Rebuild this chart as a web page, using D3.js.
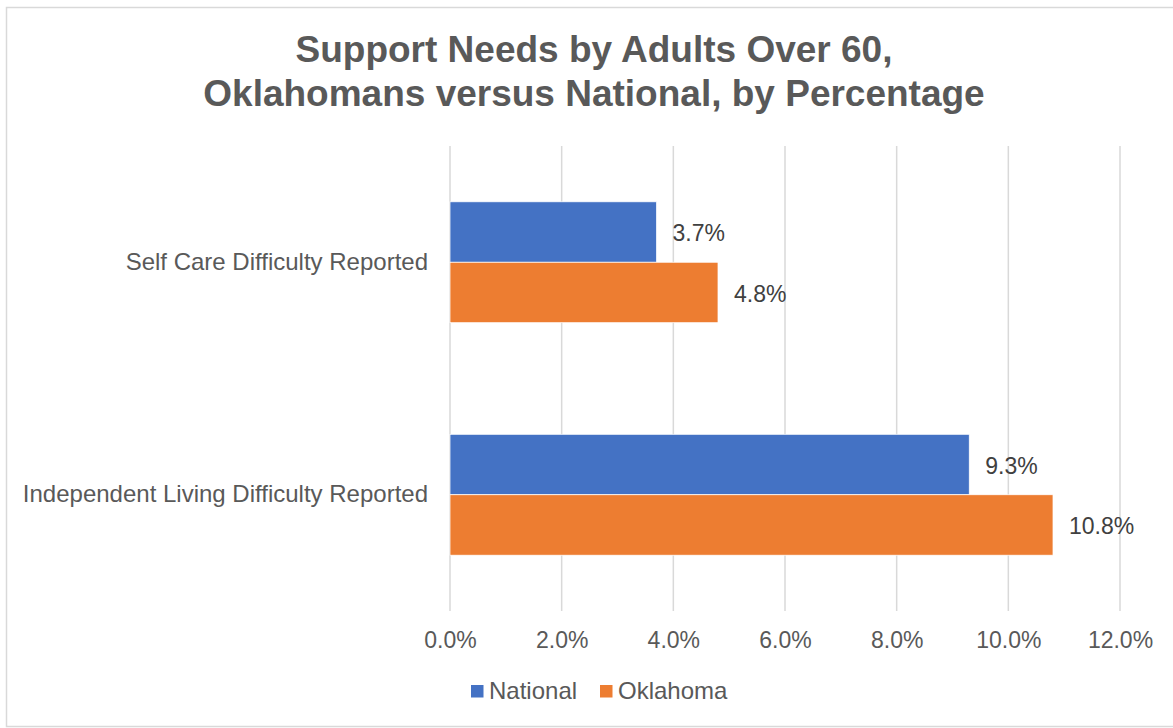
<!DOCTYPE html>
<html>
<head>
<meta charset="utf-8">
<script src="https://cdn.jsdelivr.net/npm/d3@7"></script>
<style>
  body { margin: 0; background: #fff; }
  svg { display: block; font-family: "Liberation Sans", Arial, sans-serif; }
</style>
</head>
<body>
<div id="chart"></div>
<script>
const categories = ["Self Care Difficulty Reported", "Independent Living Difficulty Reported"];
const seriesNames = ["National", "Oklahoma"];
const national = [3.7, 9.3];
const oklahoma = [4.8, 10.8];
const xTicks = [0, 2, 4, 6, 8, 10, 12];
const colors = ["#4472C4", "#ED7D31"];
const titleLines = ["Support Needs by Adults Over 60,", "Oklahomans versus National, by Percentage"];

const width = 1173, height = 728;
const plot = { left: 450, right: 1120, top: 146, bottom: 611 };

const svg = d3.select("#chart").append("svg")
    .attr("width", width)
    .attr("height", height);

// chart frame
svg.append("rect")
    .attr("x", 6.5).attr("y", 7.5)
    .attr("width", 1180).attr("height", 719)
    .attr("fill", "#fff")
    .attr("stroke", "#D9D9D9")
    .attr("stroke-width", 1.5);

svg.append("text")
    .attr("x", 594)
    .attr("text-anchor", "middle")
    .attr("fill", "#595959")
    .style("font-size", "37px")
    .style("font-weight", "bold")
    .selectAll("tspan")
    .data(titleLines)
    .join("tspan")
    .attr("x", 594)
    .attr("y", (d, i) => 62 + i * 44)
    .text(d => d);

const x = d3.scaleLinear().domain([0, 12]).range([plot.left, plot.right]);

const y = d3.scaleBand()
    .domain(categories)
    .range([plot.top, plot.bottom])
    .paddingInner(0.48)
    .paddingOuter(0.24);

const ySub = d3.scaleBand()
    .domain(seriesNames)
    .range([0, y.bandwidth()]);

// vertical gridlines
svg.append("g")
    .selectAll("line")
    .data(xTicks)
    .join("line")
    .attr("x1", d => x(d)).attr("x2", d => x(d))
    .attr("y1", plot.top).attr("y2", plot.bottom)
    .attr("stroke", "#D9D9D9")
    .attr("stroke-width", 1.5);

// x axis labels
const xAxis = d3.axisBottom(x)
    .tickValues(xTicks)
    .tickSize(0)
    .tickPadding(0)
    .tickFormat(d => d.toFixed(1) + "%");

svg.append("g")
    .attr("transform", `translate(0, 632)`)
    .call(xAxis)
    .call(g => g.select(".domain").remove())
    .call(g => g.selectAll("text")
        .attr("fill", "#595959")
        .attr("dy", "0.71em")
        .style("font-size", "23px")
        .style("font-family", "Liberation Sans, Arial, sans-serif"));

// category labels
const yAxis = d3.axisLeft(y).tickSize(0).tickPadding(22);
svg.append("g")
    .attr("transform", `translate(${plot.left}, 0)`)
    .call(yAxis)
    .call(g => g.select(".domain").remove())
    .call(g => g.selectAll("text")
        .attr("fill", "#595959")
        .style("font-size", "24px")
        .style("font-family", "Liberation Sans, Arial, sans-serif"));

const rows = categories.map((c, i) => ({
    category: c,
    values: [
        { series: seriesNames[0], value: national[i] },
        { series: seriesNames[1], value: oklahoma[i] }
    ]
}));

const groups = svg.append("g")
    .selectAll("g")
    .data(rows)
    .join("g")
    .attr("transform", d => `translate(0, ${y(d.category)})`);

groups.selectAll("rect")
    .data(d => d.values)
    .join("rect")
    .attr("x", x(0))
    .attr("y", d => ySub(d.series))
    .attr("width", d => x(d.value) - x(0))
    .attr("height", ySub.bandwidth())
    .attr("fill", (d, i) => colors[i])
    .attr("stroke", "#fff")
    .attr("stroke-width", 0.75);

groups.selectAll("text")
    .data(d => d.values)
    .join("text")
    .attr("x", d => x(d.value) + 16)
    .attr("y", d => ySub(d.series) + ySub.bandwidth() / 2)
    .attr("dy", "0.4em")
    .attr("fill", "#404040")
    .style("font-size", "23px")
    .text(d => d.value.toFixed(1) + "%");

// legend
const legend = svg.append("g")
    .attr("transform", "translate(471, 685)");

const legendItems = legend.selectAll("g")
    .data(seriesNames)
    .join("g")
    .attr("transform", (d, i) => `translate(${i * 129}, 0)`);

legendItems.append("rect")
    .attr("width", 12.5).attr("height", 12.5)
    .attr("fill", (d, i) => colors[i]);

legendItems.append("text")
    .attr("x", 18)
    .attr("y", 14)
    .attr("fill", "#595959")
    .style("font-size", "24px")
    .text(d => d);
</script>
</body>
</html>
